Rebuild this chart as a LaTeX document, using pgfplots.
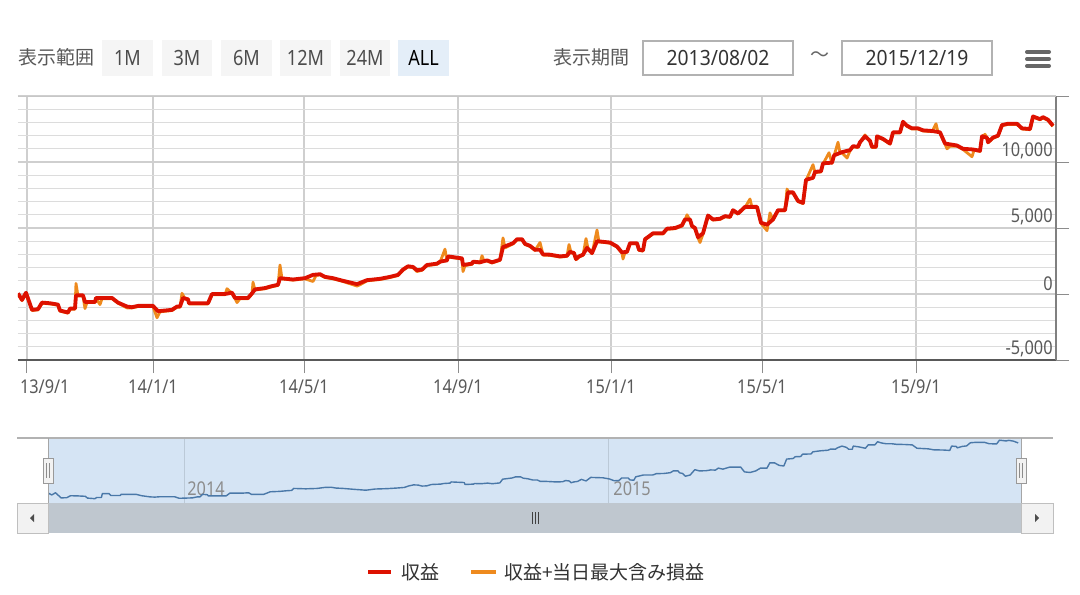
\documentclass[border=0pt]{standalone}
\usepackage{pgfplots}
\usepackage{pgfplotstable}
\pgfplotsset{compat=1.18}
\usepackage{fontspec}
\setmainfont[FakeStretch=0.86]{Noto Sans}
\newfontfamily\cjk{Noto Sans CJK JP}
\newfontfamily\datefont[FakeStretch=0.92]{Noto Sans}

\definecolor{profit}{HTML}{DD1100}
\definecolor{withopen}{HTML}{EE8A1E}
\definecolor{navline}{HTML}{4A78A8}
\definecolor{navmask}{HTML}{D5E4F4}
\definecolor{gridc}{HTML}{DCDCDC}
\definecolor{btn}{HTML}{F5F5F5}
\definecolor{btnsel}{HTML}{E4EEF8}
\definecolor{track}{HTML}{BFC7CF}

% x = position on the (ordinal) time axis, y = profit
\pgfplotstableread{
x y
18 50
22 -450
26 100
32 -1200
38 -1150
42 -650
50 -700
58 -800
60 -1250
68 -1400
70 -1100
75 -1100
76 -100
83 -100
85 -600
95 -600
96 -300
112 -300
118 -650
127 -950
132 -1000
138 -900
153 -900
158 -1300
172 -1200
177 -950
180 -950
183 -300
188 -400
189 -700
208 -700
212 0
225 0
232 100
235 -300
248 -300
252 50
255 350
265 450
272 600
278 700
280 1200
293 1100
305 1200
313 1450
320 1500
325 1300
333 1200
343 1000
357 750
367 1050
380 1150
390 1300
398 1450
403 1850
408 2100
413 2050
417 1800
422 1850
427 2200
437 2300
440 2450
447 2550
448 2850
462 2700
463 2200
472 2300
473 2450
480 2400
487 2550
492 2400
500 2600
503 3550
513 3850
517 4150
522 4150
525 3800
530 3650
535 3350
540 3350
543 3000
550 2980
560 2850
567 2900
570 3200
574 3100
576 2650
579 2850
583 2980
587 3500
592 3100
597 4000
610 3900
617 3600
622 3150
627 3200
630 3850
637 3850
639 3350
643 3300
645 4150
653 4600
663 4600
667 4950
675 5000
682 5200
685 5650
690 5650
692 5150
695 5000
698 4300
703 4600
708 5950
713 5650
720 5700
725 5900
730 5850
733 6350
738 6100
745 6600
757 6600
761 5400
767 5250
773 5650
778 6350
785 6350
788 7700
793 7700
798 7050
803 6900
806 8650
813 8800
815 9250
821 9300
823 9900
832 9950
834 10500
842 10750
850 10900
853 11200
858 11150
860 11500
865 11950
870 11600
872 11150
876 11150
877 11950
883 11750
890 11400
893 12250
900 12250
903 13050
907 12750
912 12550
918 12550
923 12400
932 12350
940 12250
945 11400
957 11250
963 11000
973 10950
980 10850
982 11950
987 11850
988 11500
993 11850
998 12000
1002 12800
1008 12900
1017 12900
1022 12550
1030 12500
1033 13450
1040 13250
1043 13400
1048 13200
1053 12750
}\profittable

% profit + largest open loss/gain of the day
\pgfplotstableread{
x y
18 0
22 -500
26 50
32 -1250
38 -1200
42 -700
50 -750
58 -850
60 -1300
68 -1450
70 -1150
75 -1150
76 800
78 -150
83 -150
85 -1100
87 -650
95 -650
96 -350
100 -800
102 -350
112 -350
118 -700
127 -1050
132 -1050
138 -950
153 -950
157 -1800
160 -1350
172 -1250
177 -1000
180 -1000
182 50
185 -350
188 -450
189 -750
208 -750
212 -50
225 -50
227 400
232 50
235 -350
237 -650
240 -350
248 -350
252 0
253 900
255 300
265 400
272 550
278 650
280 2200
282 1150
293 1050
305 1150
313 950
316 1400
320 1450
325 1250
333 1150
343 950
357 600
360 700
367 1000
380 1100
390 1250
398 1400
403 1800
408 2050
413 2000
417 1700
422 1800
427 2150
437 2250
440 2400
445 3400
447 2500
448 2800
462 2650
463 1700
465 2150
472 2250
473 2400
480 2350
482 2900
484 2500
487 2500
492 2350
500 2550
503 4250
505 3500
513 3800
517 4100
522 4100
525 3750
530 3600
535 3300
540 3900
542 3300
543 2950
550 2930
560 2800
567 2850
569 3750
571 3150
574 3050
576 2600
579 2800
583 2930
586 4200
588 3450
592 3050
597 4850
599 3950
610 3850
617 3550
622 3100
623 2650
625 3150
627 3150
630 3800
637 3800
639 3300
643 3250
645 4100
653 4550
663 4550
667 4900
675 4950
682 5150
685 5600
687 6000
690 5600
692 5100
695 4950
698 4250
700 3900
703 4550
708 5900
713 5600
720 5650
725 5850
730 5800
733 6300
738 6050
745 6550
750 7200
752 6550
757 6550
761 5350
767 4800
770 6150
773 5600
778 6300
785 6300
787 7950
789 7650
793 7650
798 7000
803 6850
806 8600
813 9800
815 9200
821 9250
823 9850
829 10700
832 9900
834 10450
838 11500
840 10700
842 10700
847 10300
850 10850
853 11150
858 11100
860 11450
865 12050
870 11550
872 11100
876 11100
877 11900
883 11700
890 11350
893 12200
900 12200
903 13000
907 12700
912 12500
918 12500
923 12350
932 12300
936 12900
938 12250
940 12200
945 11350
947 11000
950 11200
957 11200
963 10950
972 10400
974 10900
980 10800
982 11900
985 12100
987 11800
988 11450
993 11800
998 11950
1002 12750
1008 12850
1017 12850
1022 12500
1030 12450
1033 13400
1040 13200
1043 13350
1048 13150
1053 12700
}\openedtable

\begin{document}
\begin{tikzpicture}[x=0.5pt,y=-0.5pt]
\path[use as bounding box] (0,0) rectangle (1080,594);
\fill[white] (0,0) rectangle (1080,594);

% range selector
\node[anchor=west, inner sep=0, font=\cjk\fontsize{9.5}{11}\selectfont, text=black!65] at (18,57) {表示範囲};
\foreach \xa/\xb/\t in {102/153/1M, 162/212/3M, 221/272/6M, 280/331/12M, 340/390/24M}{
  \fill[btn] (\xa,40) rectangle (\xb,76);
  \node[inner sep=0, font=\fontsize{10.5}{12}\selectfont, text=black!70] at ({(\xa+\xb)/2},58) {\t};
}
\fill[btnsel] (398,40) rectangle (449,76);
\node[inner sep=0, font=\fontsize{10.5}{12}\selectfont, text=black] at (423.5,58) {ALL};

\node[anchor=west, inner sep=0, font=\cjk\fontsize{9.5}{11}\selectfont, text=black!65] at (553,57) {表示期間};
\draw[black!30, fill=white, line width=0.6pt] (643,41) rectangle (793,75);
\node[inner sep=0, font=\datefont\fontsize{10.5}{12}\selectfont, text=black!80] at (718,58) {2013/08/02};
\node[inner sep=0, font=\cjk\fontsize{9.5}{11}\selectfont, text=black!60] at (820,57) {〜};
\draw[black!30, fill=white, line width=0.6pt] (842,41) rectangle (992,75);
\node[inner sep=0, font=\datefont\fontsize{10.5}{12}\selectfont, text=black!80] at (917,58) {2015/12/19};
\foreach \yy in {52,59,66}
  \draw[black!60, line width=2pt, line cap=round] (1027,\yy) -- (1049,\yy);

% main chart
\begin{axis}[
  at={(9pt,-48pt)}, anchor=north west,
  scale only axis, width=519pt, height=132pt,
  xmin=18, xmax=1056, ymin=-5000, ymax=15000,
  axis x line*=bottom, axis y line*=right,
  x axis line style={draw=black!65, line width=0.8pt},
  y axis line style={draw=black!50, line width=0.6pt},
  scaled y ticks=false,
  xtick={27,153,304,458,611,762,916},
  xticklabels={\makebox[0pt][l]{\hspace{-3.5pt}13/9/1},14/1/1,14/5/1,14/9/1,15/1/1,15/5/1,15/9/1},
  ytick={-5000,0,5000,10000,15000},
  yticklabels={{-5,000},{0},{5,000},{10,000},{}},
  minor ytick={-4000,-3000,-2000,-1000,1000,2000,3000,4000,6000,7000,8000,9000,11000,12000,13000,14000},
  xmajorgrids, ymajorgrids, yminorgrids,
  major grid style={draw=black!19, line width=0.6pt},
  minor grid style={draw=gridc, line width=0.6pt},
  tick align=outside,
  major tick length=6.5pt, minor tick length=0pt,
  tick style={draw=black!45, line width=0.5pt},
  xticklabel style={font=\fontsize{9.5}{11}\selectfont, text=black!65},
  yticklabel style={font=\fontsize{9.5}{11}\selectfont, text=black!65, anchor=south east, inner sep=0pt, xshift=-8pt, yshift=1.5pt},
]
\draw[black!22, line width=0.8pt] (rel axis cs:0,1) -- (rel axis cs:1,1);
\addplot[withopen, line width=1.4pt, line join=round] table {\openedtable};
\addplot[profit, line width=1.9pt, line join=round] table {\profittable};
\end{axis}

% navigator
\fill[navmask] (48,438) rectangle (1021,503);
\draw[black!12!navmask, line width=0.5pt] (184,438) -- (184,503) (608,438) -- (608,503);
\node[anchor=west, inner sep=0, font=\fontsize{9.5}{11}\selectfont, text=black!45] at (187,489) {2014};
\node[anchor=west, inner sep=0, font=\fontsize{9.5}{11}\selectfont, text=black!45] at (613,489) {2015};
\begin{axis}[
  at={(24pt,-219pt)}, anchor=north west,
  scale only axis, width=486.5pt, height=32.5pt,
  xmin=18, xmax=1056, ymin=-2500, ymax=14000,
  hide axis,
]
\addplot[navline, line width=0.7pt, line join=round] table {\profittable};
\end{axis}
\draw[black!30, line width=0.8pt] (17,438) -- (1053,438);
\draw[black!35, line width=0.5pt] (48,438) -- (48,503) (1021,438) -- (1021,503);

% scrollbar
\fill[track] (48,503) rectangle (1021,533);
\draw[black!25, fill=black!5, line width=0.5pt] (17,503) rectangle (48,533);
\draw[black!25, fill=black!5, line width=0.5pt] (1021,503) rectangle (1053,533);
\fill[black!70] (34,514) -- (34,522) -- (30,518) -- cycle;
\fill[black!70] (1035,514) -- (1035,522) -- (1039,518) -- cycle;
\foreach \gx in {532,535,538}
  \draw[black!75, line width=0.5pt] (\gx,512) -- (\gx,524);

% handles
\foreach \hx in {48,1021}{
  \draw[black!40, fill=black!5, line width=0.5pt] (\hx-5,458) rectangle (\hx+5,483);
  \draw[black!45, line width=0.5pt] (\hx-1.5,463) -- (\hx-1.5,478) (\hx+1.5,463) -- (\hx+1.5,478);
}

% legend
\draw[profit, line width=2pt] (368,572) -- (391,572);
\node[anchor=west, inner sep=0, font=\cjk\fontsize{9.5}{11}\selectfont, text=black!80] at (401,572) {収益};
\draw[withopen, line width=2pt] (471,572) -- (496,572);
\node[anchor=west, inner sep=0, font=\cjk\fontsize{9.5}{11}\selectfont, text=black!80] at (504,572) {収益+当日最大含み損益};
\end{tikzpicture}
\end{document}
